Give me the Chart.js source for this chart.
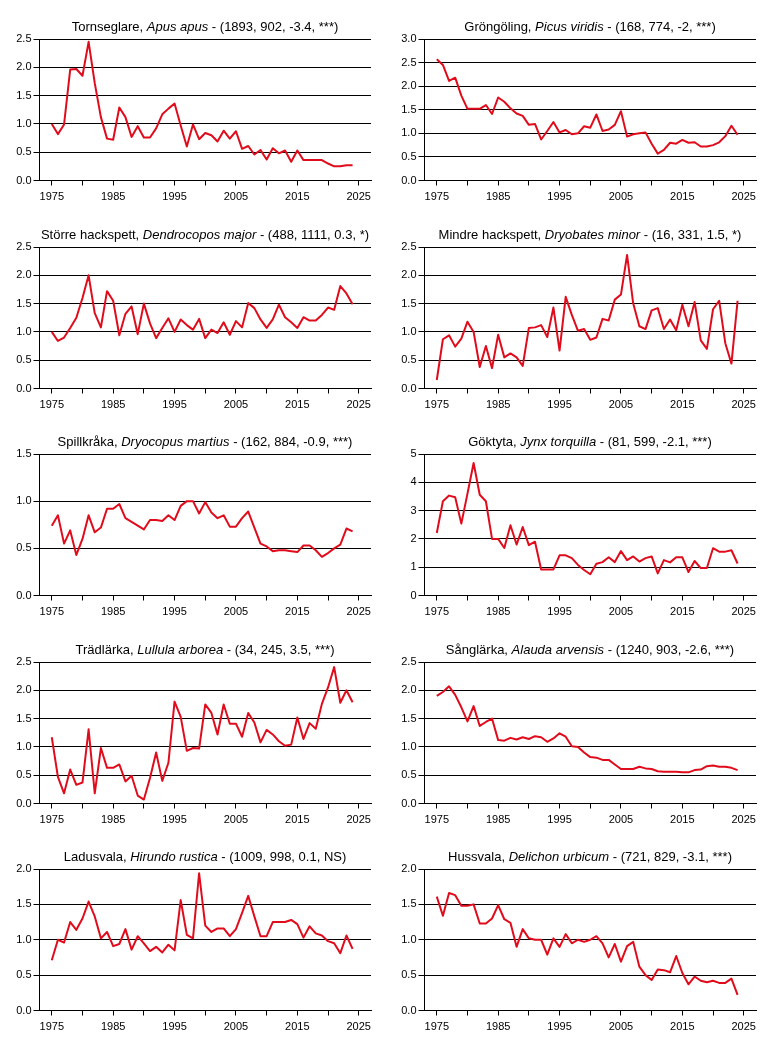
<!DOCTYPE html>
<html>
<head>
<meta charset="utf-8">
<script src="https://cdn.jsdelivr.net/npm/chart.js@4"></script>
<style>
  body { margin: 0; background: #fff; }
  #grid { position: relative; width: 769px; height: 1038px; }
  .panel { position: absolute; width: 385px; height: 207px; }
  .panel canvas { position: absolute; left: 0; top: 0; }
  .title {
    position: absolute; left: 0; width: 410px; top: 19px;
    text-align: center; font: 13px "Liberation Sans", Arial, sans-serif;
    color: #000; white-space: nowrap; line-height: 16px;
  }
</style>
</head>
<body>
<div id="grid"></div>
<script>
// årtal (x-axel)
const years = [1975, 1976, 1977, 1978, 1979, 1980, 1981, 1982, 1983, 1984,
  1985, 1986, 1987, 1988, 1989, 1990, 1991, 1992, 1993, 1994,
  1995, 1996, 1997, 1998, 1999, 2000, 2001, 2002, 2003, 2004,
  2005, 2006, 2007, 2008, 2009, 2010, 2011, 2012, 2013, 2014,
  2015, 2016, 2017, 2018, 2019, 2020, 2021, 2022, 2023, 2024];

const xTickYears = [1975, 1980, 1985, 1990, 1995, 2000, 2005, 2010, 2015, 2020, 2025];
const xLabelYears = [1975, 1985, 1995, 2005, 2015, 2025];

// index per art
const tornseglare = [1.0, 0.82, 0.99, 1.96, 1.97, 1.85, 2.45, 1.72, 1.12, 0.74,
  0.72, 1.29, 1.12, 0.77, 0.96, 0.76, 0.76, 0.92, 1.17, 1.27,
  1.36, 0.97, 0.6, 0.99, 0.73, 0.84, 0.8, 0.69, 0.88, 0.74,
  0.87, 0.56, 0.61, 0.46, 0.54, 0.37, 0.57, 0.48, 0.53, 0.33,
  0.53, 0.36, 0.36, 0.36, 0.36, 0.3, 0.25, 0.25, 0.27, 0.27];

const grongoling = [2.57, 2.45, 2.11, 2.18, 1.8, 1.52, 1.52, 1.52, 1.6, 1.41,
  1.76, 1.67, 1.53, 1.42, 1.37, 1.18, 1.2, 0.87, 1.05, 1.24,
  1.02, 1.07, 0.98, 1.0, 1.15, 1.12, 1.4, 1.05, 1.08, 1.18,
  1.47, 0.93, 0.98, 1.0, 1.02, 0.78, 0.57, 0.65, 0.8, 0.78,
  0.86, 0.8, 0.81, 0.72, 0.72, 0.75, 0.81, 0.94, 1.16, 0.97];

const storreHackspett = [1.0, 0.84, 0.9, 1.07, 1.25, 1.6, 2.0, 1.33, 1.08, 1.72,
  1.55, 0.94, 1.32, 1.45, 0.96, 1.5, 1.15, 0.89, 1.07, 1.24,
  1.0, 1.22, 1.12, 1.04, 1.23, 0.89, 1.04, 0.98, 1.17, 0.95,
  1.19, 1.08, 1.51, 1.42, 1.22, 1.07, 1.22, 1.48, 1.26, 1.17,
  1.07, 1.26, 1.2, 1.2, 1.3, 1.43, 1.39, 1.81, 1.68, 1.49];

const mindreHackspett = [0.15, 0.87, 0.94, 0.74, 0.88, 1.18, 1.0, 0.38, 0.75, 0.36,
  0.95, 0.55, 0.62, 0.55, 0.4, 1.07, 1.08, 1.12, 0.91, 1.43,
  0.67, 1.62, 1.3, 1.02, 1.05, 0.86, 0.9, 1.23, 1.2, 1.57,
  1.66, 2.36, 1.5, 1.1, 1.05, 1.38, 1.42, 1.05, 1.22, 1.03,
  1.48, 1.1, 1.53, 0.85, 0.7, 1.4, 1.55, 0.8, 0.44, 1.55];

const spillkraka = [0.74, 0.85, 0.55, 0.69, 0.43, 0.6, 0.85, 0.67, 0.72, 0.92,
  0.92, 0.97, 0.82, 0.78, 0.74, 0.7, 0.8, 0.8, 0.79, 0.85,
  0.8, 0.95, 1.0, 1.0, 0.87, 0.99, 0.88, 0.82, 0.85, 0.73,
  0.73, 0.82, 0.89, 0.72, 0.55, 0.52, 0.47, 0.48, 0.48, 0.47,
  0.46, 0.53, 0.53, 0.48, 0.41, 0.45, 0.5, 0.54, 0.71, 0.68];

const goktyta = [2.21, 3.33, 3.53, 3.47, 2.54, 3.6, 4.68, 3.56, 3.33, 2.0,
  2.0, 1.68, 2.48, 1.8, 2.42, 1.78, 1.9, 0.92, 0.92, 0.92,
  1.42, 1.42, 1.32, 1.08, 0.9, 0.75, 1.12, 1.18, 1.35, 1.18,
  1.57, 1.25, 1.38, 1.2, 1.32, 1.38, 0.78, 1.25, 1.17, 1.35,
  1.35, 0.83, 1.22, 0.97, 0.97, 1.67, 1.55, 1.55, 1.6, 1.13];

const tradlarka = [1.17, 0.47, 0.18, 0.6, 0.33, 0.37, 1.31, 0.18, 0.98, 0.63,
  0.63, 0.69, 0.39, 0.49, 0.14, 0.07, 0.45, 0.9, 0.4, 0.72,
  1.8, 1.53, 0.93, 0.98, 0.97, 1.75, 1.6, 1.22, 1.75, 1.41,
  1.41, 1.18, 1.6, 1.43, 1.08, 1.3, 1.22, 1.1, 1.02, 1.04,
  1.52, 1.14, 1.42, 1.32, 1.76, 2.05, 2.41, 1.78, 2.0, 1.79];

const sanglarka = [1.9, 1.97, 2.07, 1.92, 1.7, 1.45, 1.72, 1.37, 1.44, 1.5,
  1.12, 1.11, 1.16, 1.13, 1.17, 1.14, 1.19, 1.17, 1.09, 1.15,
  1.24, 1.18, 1.01, 1.0, 0.9, 0.82, 0.81, 0.77, 0.77, 0.69,
  0.61, 0.61, 0.61, 0.65, 0.62, 0.61, 0.57, 0.56, 0.56, 0.56,
  0.55, 0.55, 0.59, 0.6, 0.66, 0.67, 0.65, 0.65, 0.63, 0.59];

const ladusvala = [0.71, 1.0, 0.96, 1.25, 1.14, 1.3, 1.54, 1.33, 1.02, 1.11,
  0.91, 0.94, 1.15, 0.86, 1.05, 0.95, 0.84, 0.9, 0.82, 0.93,
  0.85, 1.56, 1.07, 1.02, 1.94, 1.2, 1.11, 1.16, 1.16, 1.05,
  1.15, 1.38, 1.62, 1.33, 1.05, 1.05, 1.25, 1.25, 1.25, 1.28,
  1.22, 1.03, 1.19, 1.09, 1.06, 0.98, 0.95, 0.81, 1.06, 0.87];

const hussvala = [1.61, 1.34, 1.66, 1.63, 1.48, 1.48, 1.5, 1.23, 1.23, 1.3,
  1.49, 1.29, 1.24, 0.9, 1.15, 1.02, 1.0, 1.0, 0.79, 1.02,
  0.9, 1.08, 0.95, 1.0, 0.97, 1.0, 1.05, 0.95, 0.75, 0.94,
  0.69, 0.91, 0.97, 0.62, 0.5, 0.43, 0.58, 0.57, 0.54, 0.77,
  0.53, 0.37, 0.48, 0.42, 0.4, 0.42, 0.39, 0.39, 0.45, 0.22];

// rubriker: svenskt namn, latinskt namn, statistik
const names = ['Tornseglare', 'Gröngöling', 'Större hackspett', 'Mindre hackspett', 'Spillkråka',
  'Göktyta', 'Trädlärka', 'Sånglärka', 'Ladusvala', 'Hussvala'];
const latin = ['Apus apus', 'Picus viridis', 'Dendrocopos major', 'Dryobates minor', 'Dryocopus martius',
  'Jynx torquilla', 'Lullula arborea', 'Alauda arvensis', 'Hirundo rustica', 'Delichon urbicum'];
const stats = ['(1893, 902, -3.4, ***)', '(168, 774, -2, ***)', '(488, 1111, 0.3, *)', '(16, 331, 1.5, *)',
  '(162, 884, -0.9, ***)', '(81, 599, -2.1, ***)', '(34, 245, 3.5, ***)', '(1240, 903, -2.6, ***)',
  '(1009, 998, 0.1, NS)', '(721, 829, -3.1, ***)'];
const series = [tornseglare, grongoling, storreHackspett, mindreHackspett, spillkraka,
  goktyta, tradlarka, sanglarka, ladusvala, hussvala];
const yMax = [2.5, 3.0, 2.5, 2.5, 1.5, 5, 2.5, 2.5, 2.0, 2.0];
const yStep = [0.5, 0.5, 0.5, 0.5, 0.5, 1, 0.5, 0.5, 0.5, 0.5];

const grid = document.getElementById('grid');
const font = { family: '"Liberation Sans", Arial, sans-serif', size: 11 };

series.forEach((values, i) => {
  const col = i % 2, row = Math.floor(i / 2);
  const panel = document.createElement('div');
  panel.className = 'panel';
  panel.style.left = (col * 385) + 'px';
  panel.style.top = Math.round(row * 207.6) + 'px';

  const title = document.createElement('div');
  title.className = 'title';
  title.innerHTML = `${names[i]}, <i>${latin[i]}</i> - ${stats[i]}`;

  const canvas = document.createElement('canvas');
  canvas.width = 385;
  canvas.height = 207;
  panel.appendChild(canvas);
  panel.appendChild(title);
  grid.appendChild(panel);

  new Chart(canvas.getContext('2d'), {
    type: 'line',
    data: {
      datasets: [{
        data: years.map((y, k) => ({ x: y, y: values[k] })),
        borderColor: '#e00c1c',
        borderWidth: 2,
        borderJoinStyle: 'round',
        pointRadius: 0,
        tension: 0
      }]
    },
    options: {
      responsive: false,
      animation: false,
      layout: { padding: { left: 0, right: 14, top: 39, bottom: 0 } },
      plugins: { legend: { display: false }, tooltip: { enabled: false }, title: { display: false } },
      scales: {
        x: {
          type: 'linear',
          min: 1973,
          max: 2027,
          afterBuildTicks: s => { s.ticks = xTickYears.map(v => ({ value: v })); },
          afterFit: s => { s.height = 26.5; },
          grid: { drawOnChartArea: false, drawTicks: true, tickLength: 5, color: '#000' },
          border: { display: true, color: '#000', width: 1 },
          ticks: {
            autoSkip: false, maxRotation: 0, padding: 5, color: '#000', font: font,
            callback: v => xLabelYears.includes(v) ? String(v) : ''
          }
        },
        y: {
          min: 0,
          max: yMax[i],
          afterFit: s => { s.width = 39.5; },
          grid: { drawOnChartArea: true, drawTicks: true, tickLength: 6, color: '#000', lineWidth: 1 },
          border: { display: true, color: '#000', width: 1 },
          ticks: {
            stepSize: yStep[i], padding: 2, color: '#000', font: font,
            callback: v => yStep[i] < 1 ? v.toFixed(1) : String(v)
          }
        }
      }
    }
  });
});
</script>
</body>
</html>
